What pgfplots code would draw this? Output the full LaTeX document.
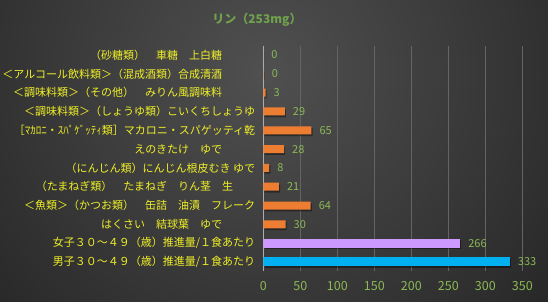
\documentclass[border=0pt]{standalone}
\usepackage{pgfplots}
\pgfplotsset{compat=1.18}
\usepackage{fontspec}
\setmainfont{Noto Sans CJK JP}
\definecolor{bgin}{RGB}{80,80,80}
\definecolor{bgout}{RGB}{38,38,38}
\definecolor{titlec}{RGB}{112,162,78}
\definecolor{numc}{RGB}{140,185,85}
\definecolor{labc}{RGB}{240,240,40}
\definecolor{orangec}{RGB}{237,125,49}
\definecolor{purplec}{RGB}{204,153,255}
\definecolor{bluec}{RGB}{0,176,240}
\definecolor{gridc}{RGB}{100,100,100}
\begin{document}
\begin{tikzpicture}
\path[use as bounding box] (0,0) rectangle (548bp,302bp);
\begin{scope}
\clip (0,0) rectangle (548bp,302bp);
\shade[inner color=bgin, outer color=bgout] (265bp,230bp) circle (380bp);
\end{scope}
\node[text=titlec, font=\bfseries\fontsize{12bp}{14bp}\selectfont] at (257bp,282bp) {リン（253mg）};
\begin{axis}[
  at={(263.3bp,30.6bp)}, anchor=south west,
  scale only axis, width=259bp, height=225.8bp,
  xmin=0, xmax=350, ymin=-0.5, ymax=11.5,
  y dir=reverse,
  axis line style={draw=none},
  major tick length=0pt,
  xtick={50,100,...,350},
  extra x ticks={0},
  extra x tick style={grid style={draw=gray!65, line width=0.8pt}},
  xmajorgrids,
  grid style={draw=gridc, line width=0.5pt},
  ytick={0,...,11},
  yticklabels={
    （砂糖類）　車糖　上白糖　　　,
    ＜アルコール飲料類＞（混成酒類）合成清酒　　　,
    ＜調味料類＞（その他）　みりん風調味料　　　,
    ＜調味料類＞（しょうゆ類）こいくちしょうゆ,
    ［ﾏｶﾛﾆ・ｽﾊﾟｹﾞｯﾃｨ類］マカロニ・スパゲッティ乾,
    えのきたけ　ゆで　　　,
    （にんじん類）にんじん根皮むき ゆで,
    （たまねぎ類）　たまねぎ　りん茎　生　　,
    ＜魚類＞（かつお類）　缶詰　油漬　フレーク,
    はくさい　結球葉　ゆで　　　,
    女子３０～４９（歳）推進量/１食あたり,
    男子３０～４９（歳）推進量/１食あたり},
  yticklabel style={text=labc, font=\fontsize{11bp}{13bp}\selectfont, anchor=east, inner sep=0pt, xshift=-8bp},
  xticklabel style={text=numc, font=\fontsize{12.5bp}{14bp}\selectfont, anchor=north, inner sep=0pt, yshift=-10bp},
  /pgf/number format/assume math mode=true,
  nodes near coords={\pgfmathprintnumber[fixed,precision=0]{\pgfplotspointmeta}},
  nodes near coords style={text=numc, font=\fontsize{11bp}{13bp}\selectfont, anchor=west, inner sep=0pt, xshift=8bp},
  point meta=x,
]
\addplot[xbar, bar shift=0pt, bar width=8bp, fill=orangec, draw=none,
  preaction={fill=black, fill opacity=0.4, transform canvas={shift={(1.2bp,-1.8bp)}}}] coordinates {
  (0,0) (0.4,1) (3,2) (29,3) (65,4) (28,5) (8,6) (21,7) (64,8) (30,9)};
\addplot[xbar, bar shift=0pt, bar width=9bp, fill=purplec, draw=none,
  preaction={fill=black, fill opacity=0.4, transform canvas={shift={(1.2bp,-1.8bp)}}}] coordinates {(266,10)};
\addplot[xbar, bar shift=0pt, bar width=9bp, fill=bluec, draw=none,
  preaction={fill=black, fill opacity=0.4, transform canvas={shift={(1.2bp,-1.8bp)}}}] coordinates {(333,11)};
\end{axis}
\end{tikzpicture}
\end{document}
